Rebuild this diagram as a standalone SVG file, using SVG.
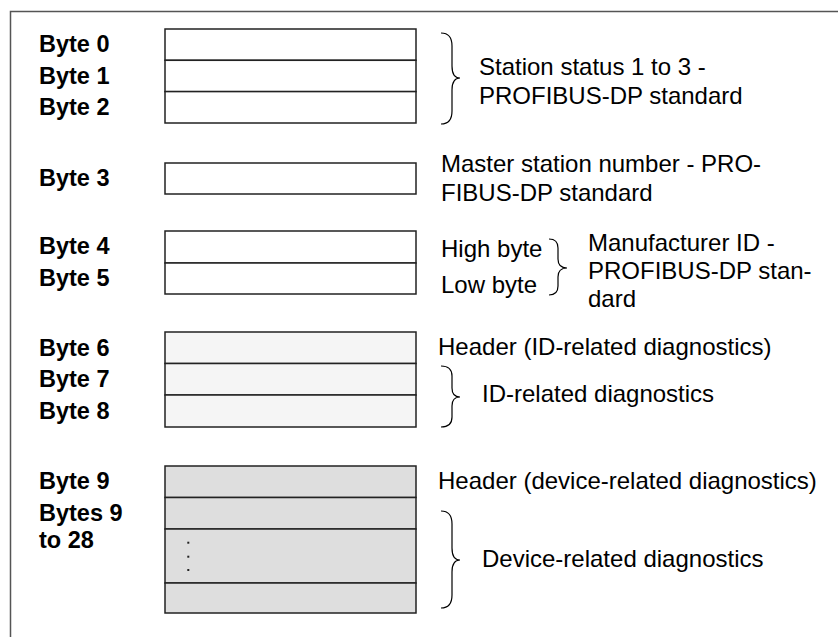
<svg xmlns="http://www.w3.org/2000/svg" width="838" height="637" viewBox="0 0 838 637">
<style>
.lbl{font-family:"Liberation Sans",Arial,sans-serif;font-weight:bold;font-size:23.5px;fill:#000}
.txt{font-family:"Liberation Sans",Arial,sans-serif;font-size:24px;fill:#000}
.cell{stroke:#222;stroke-width:1.5}
.w{fill:#fff}
.l{fill:#f5f5f5}
.g{fill:#dedede}
.brace{fill:none;stroke:#000;stroke-width:1.2}
</style>
<rect x="0" y="0" width="838" height="637" fill="#fff"/>
<path d="M10.5,640 V11.5 H840" fill="none" stroke="#555" stroke-width="1.5"/>
<g id="bytes0-2">
<rect class="cell w" x="165" y="29" width="251" height="31.3"/>
<rect class="cell w" x="165" y="60.3" width="251" height="31.3"/>
<rect class="cell w" x="165" y="91.6" width="251" height="31.4"/>
<text class="lbl" x="39" y="52">Byte 0</text>
<text class="lbl" x="39" y="83.5">Byte 1</text>
<text class="lbl" x="39" y="115">Byte 2</text>
</g>
<g id="byte3">
<rect class="cell w" x="165" y="163" width="251" height="31"/>
<text class="lbl" x="39" y="186">Byte 3</text>
</g>
<g id="bytes4-5">
<rect class="cell w" x="165" y="231" width="251" height="32"/>
<rect class="cell w" x="165" y="263" width="251" height="31"/>
<text class="lbl" x="39" y="254">Byte 4</text>
<text class="lbl" x="39" y="286">Byte 5</text>
</g>
<g id="bytes6-8">
<rect class="cell l" x="165" y="332" width="251" height="31.5"/>
<rect class="cell l" x="165" y="363.5" width="251" height="31.5"/>
<rect class="cell l" x="165" y="395" width="251" height="32"/>
<text class="lbl" x="39" y="356">Byte 6</text>
<text class="lbl" x="39" y="387">Byte 7</text>
<text class="lbl" x="39" y="419">Byte 8</text>
</g>
<g id="bytes9-28">
<rect class="cell g" x="165" y="466" width="251" height="31.5"/>
<rect class="cell g" x="165" y="497.5" width="251" height="31.5"/>
<rect class="cell g" x="165" y="529" width="251" height="54"/>
<rect class="cell g" x="165" y="583" width="251" height="30"/>
<rect x="187.3" y="541.7" width="2" height="2" fill="#222"/>
<rect x="187.3" y="555.7" width="2" height="2" fill="#222"/>
<rect x="187.3" y="569" width="2" height="2" fill="#222"/>
<text class="lbl" x="39" y="489">Byte 9</text>
<text class="lbl" x="39" y="521">Bytes 9</text>
<text class="lbl" x="39" y="548">to 28</text>
</g>
<g id="connectors">
<path class="brace" d="M441,33 Q452,33 452,46 L452,66 Q452,78 460,78 Q452,78 452,90 L452,111 Q452,124 441,124"/>
<path class="brace" d="M549,239 Q558,239 558,248 L558,259 Q558,268 567,268 Q558,268 558,277 L558,286 Q558,295 549,295"/>
<path class="brace" d="M441,366 Q452,366 452,376 L452,388 Q452,397 460,397 Q452,397 452,406 L452,417 Q452,427 441,427"/>
<path class="brace" d="M441,511 Q452,511 452,524 L452,548 Q452,560 460,560 Q452,560 452,572 L452,595 Q452,608 441,608"/>
</g>
<g id="notes">
<text class="txt" x="479" y="75">Station status 1 to 3 -</text>
<text class="txt" x="479" y="104">PROFIBUS-DP standard</text>
<text class="txt" x="441" y="172">Master station number - PRO-</text>
<text class="txt" x="441" y="201">FIBUS-DP standard</text>
<text class="txt" x="441" y="257">High byte</text>
<text class="txt" x="441" y="293">Low byte</text>
<text class="txt" x="588" y="251">Manufacturer ID -</text>
<text class="txt" x="588" y="279">PROFIBUS-DP stan-</text>
<text class="txt" x="588" y="307">dard</text>
<text class="txt" x="438" y="355">Header (ID-related diagnostics)</text>
<text class="txt" x="482" y="402">ID-related diagnostics</text>
<text class="txt" x="438" y="489">Header (device-related diagnostics)</text>
<text class="txt" x="482" y="567">Device-related diagnostics</text>
</g>
</svg>
